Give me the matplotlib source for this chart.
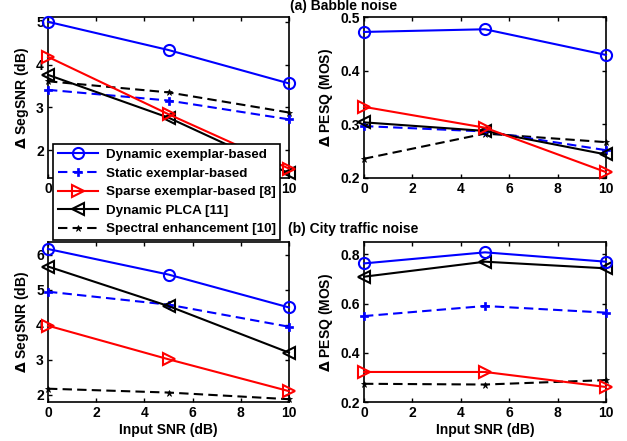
import matplotlib
matplotlib.use("Agg")
import matplotlib.pyplot as plt
from matplotlib.lines import Line2D

plt.rcParams['font.family'] = ['Liberation Sans', 'DejaVu Sans']
plt.rcParams['font.weight'] = 'bold'
plt.rcParams['mathtext.fontset'] = 'dejavusans'

snr = [0, 5, 10]
x_ticks = [0, 2, 4, 6, 8, 10]

labels = ["Dynamic exemplar-based", "Static exemplar-based",
          "Sparse exemplar-based [8]", "Dynamic PLCA [11]",
          "Spectral enhancement [10]"]

# (a) Babble noise
babble_segsnr_dynamic = [5.00, 4.34, 3.56]
babble_segsnr_static = [3.41, 3.16, 2.72]
babble_segsnr_sparse = [4.18, 2.84, 1.57]
babble_segsnr_plca = [3.76, 2.76, 1.46]
babble_segsnr_spectral = [3.61, 3.35, 2.88]

babble_pesq_dynamic = [0.473, 0.478, 0.430]
babble_pesq_static = [0.297, 0.287, 0.252]
babble_pesq_sparse = [0.333, 0.294, 0.211]
babble_pesq_plca = [0.304, 0.288, 0.244]
babble_pesq_spectral = [0.236, 0.283, 0.267]

# (b) City traffic noise
city_segsnr_dynamic = [6.17, 5.44, 4.50]
city_segsnr_static = [4.95, 4.58, 3.95]
city_segsnr_sparse = [3.98, 3.02, 2.11]
city_segsnr_plca = [5.67, 4.54, 3.21]
city_segsnr_spectral = [2.18, 2.07, 1.88]

city_pesq_dynamic = [0.763, 0.808, 0.770]
city_pesq_static = [0.549, 0.590, 0.563]
city_pesq_sparse = [0.322, 0.322, 0.261]
city_pesq_plca = [0.709, 0.770, 0.743]
city_pesq_spectral = [0.274, 0.271, 0.289]

dash = (0, (4.5, 2.5))
styles = [
    dict(color='#0000ff', ls='-', marker='o', ms=8, mfc='none', mew=1.5),
    dict(color='#0000ff', ls=dash, marker='P', ms=6, mew=0.5),
    dict(color='#ff0000', ls='-', marker='>', ms=8, mfc='none', mew=1.5),
    dict(color='black', ls='-', marker='<', ms=8, mfc='none', mew=1.5),
    dict(color='black', ls=dash, marker='*', ms=5, mew=0.5),
]

fig = plt.figure(figsize=(6.27, 4.41), dpi=100)
W, H = 627.0, 441.0

def axpos(l, t, r, b):
    return [l / W, 1 - b / H, (r - l) / W, (b - t) / H]

ax_tl = fig.add_axes(axpos(48, 17.5, 289, 178))
ax_tr = fig.add_axes(axpos(364, 17.5, 606, 178))
ax_bl = fig.add_axes(axpos(48, 242, 289, 402))
ax_br = fig.add_axes(axpos(364, 242, 606, 402))

panels = [
    (ax_tl, [babble_segsnr_dynamic, babble_segsnr_static, babble_segsnr_sparse,
             babble_segsnr_plca, babble_segsnr_spectral], (1.35, 5.1), [2, 3, 4, 5], None,
     r'$\Delta$ SegSNR (dB)', False),
    (ax_tr, [babble_pesq_dynamic, babble_pesq_static, babble_pesq_sparse,
             babble_pesq_plca, babble_pesq_spectral], (0.2, 0.5), [0.2, 0.3, 0.4, 0.5], ['0.2', '0.3', '0.4', '0.5'],
     r'$\Delta$ PESQ (MOS)', False),
    (ax_bl, [city_segsnr_dynamic, city_segsnr_static, city_segsnr_sparse,
             city_segsnr_plca, city_segsnr_spectral], (1.8, 6.37), [2, 3, 4, 5, 6], None,
     r'$\Delta$ SegSNR (dB)', True),
    (ax_br, [city_pesq_dynamic, city_pesq_static, city_pesq_sparse,
             city_pesq_plca, city_pesq_spectral], (0.2, 0.85), [0.2, 0.4, 0.6, 0.8], ['0.2', '0.4', '0.6', '0.8'],
     r'$\Delta$ PESQ (MOS)', True),
]

for ax, series, ylim, yt, ytl, ylab, xl in panels:
    order = [4, 1, 3, 2, 0]
    for i in order:
        ax.plot(snr, series[i], lw=1.5, clip_on=False, zorder=3, **styles[i])
    ax.set_xlim(0, 10)
    ax.set_ylim(*ylim)
    ax.set_xticks(x_ticks)
    ax.set_yticks(yt)
    if ytl:
        ax.set_yticklabels(ytl)
    ax.tick_params(direction='in', top=True, right=True, labelsize=10, length=3,
                   width=1, pad=3)
    for s in ax.spines.values():
        s.set_linewidth(1.2)
    ax.set_ylabel(ylab, fontsize=10, fontweight='bold', labelpad=4)
    if xl:
        ax.set_xlabel('Input SNR (dB)', fontsize=10, fontweight='bold', labelpad=2)

fig.text(290 / W, 1 - 6 / H, '(a) Babble noise', fontsize=10, fontweight='bold',
         ha='left', va='center')
fig.text(288 / W, 1 - 229 / H, '(b) City traffic noise', fontsize=10, fontweight='bold',
         ha='left', va='center')

handles = [Line2D([], [], lw=1.5, **styles[i]) for i in range(5)]
leg = fig.legend(handles, labels, loc='upper left',
                 bbox_to_anchor=(53 / W, 1 - 144 / H), fontsize=9.6,
                 frameon=True, fancybox=False, edgecolor='black', framealpha=1,
                 handlelength=3.0, handletextpad=0.6, borderpad=0.35,
                 labelspacing=0.47, borderaxespad=0)
leg.get_frame().set_linewidth(1.2)
leg.set_zorder(10)

fig.savefig('out.png', dpi=100)
